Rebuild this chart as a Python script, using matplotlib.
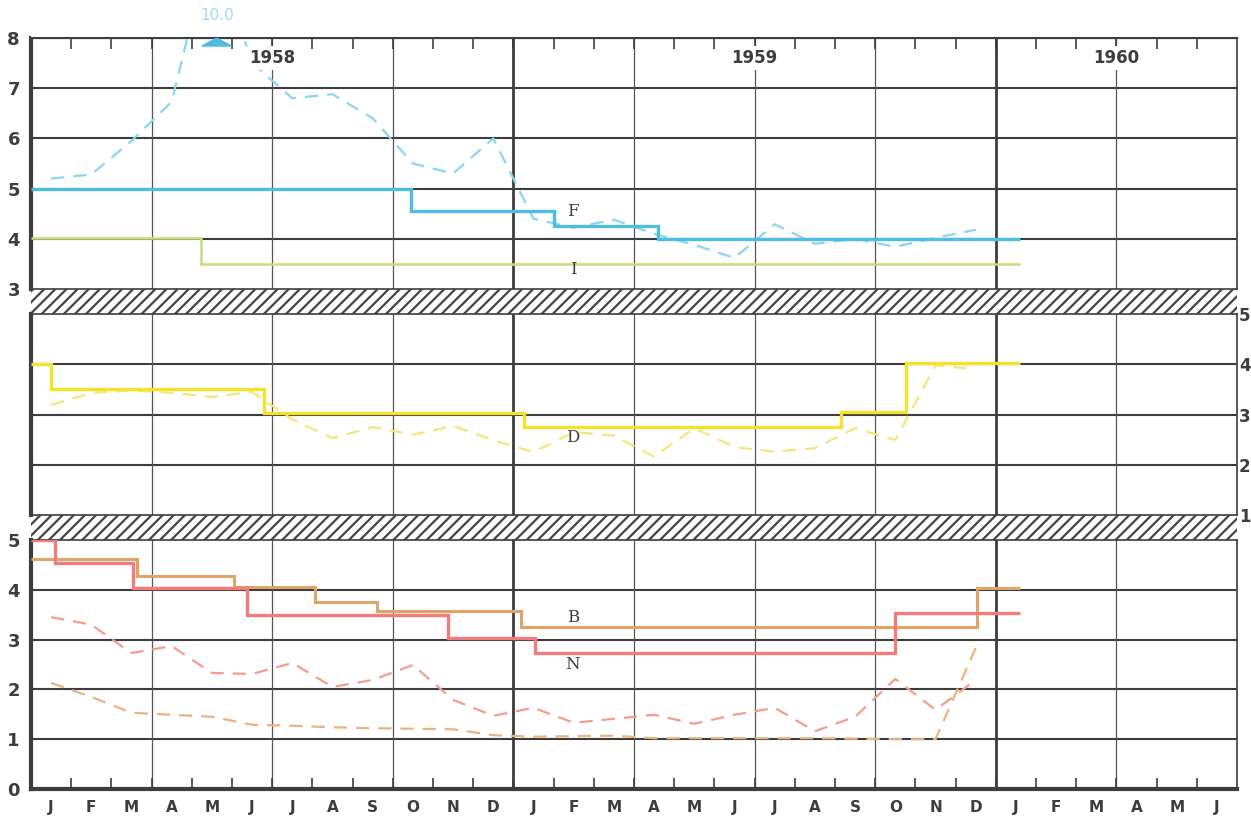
import numpy as np
import matplotlib.pyplot as plt
from matplotlib.patches import Rectangle

plt.rcParams['hatch.linewidth'] = 1.6

'''Data read off the chart'''
months = ['J', 'F', 'M', 'A', 'M', 'J', 'J', 'A', 'S', 'O', 'N', 'D'] * 2 + ['J', 'F', 'M', 'A', 'M', 'J']
years = ['1958', '1959', '1960']
year_pos = [6, 18, 27]  # month index where the year label sits
mid = np.arange(24) + 0.5  # month centres Jan 1958 .. Dec 1959

# top panel (F and I)
f_dash = [5.2, 5.28, 5.95, 6.73, 10.0, 7.5, 6.8, 6.88, 6.4, 5.5, 5.3, 6.0,
          4.4, 4.22, 4.38, 4.1, 3.88, 3.62, 4.29, 3.9, 4.0, 3.84, 4.02, 4.18]
f_edges = [0, 9.45, 13.0, 15.6, 24.6]
f_levels = [5.0, 4.55, 4.25, 4.0]
i_edges = [0, 4.23, 24.6]
i_levels = [4.02, 3.5]

# middle panel (D)
d_dash = [3.19, 3.43, 3.48, 3.43, 3.35, 3.45, 2.9, 2.53, 2.75, 2.6, 2.77, 2.49,
          2.25, 2.65, 2.58, 2.16, 2.73, 2.35, 2.26, 2.33, 2.73, 2.49, 3.98, 3.9]
d_edges = [0, 0.49, 5.8, 12.26, 20.15, 21.77, 24.6]
d_levels = [4.0, 3.5, 3.02, 2.75, 3.05, 4.02]

# bottom panel (B and N)
n_dash = [3.45, 3.3, 2.73, 2.87, 2.33, 2.31, 2.53, 2.05, 2.19, 2.49, 1.79, 1.47,
          1.63, 1.33, 1.41, 1.49, 1.31, 1.49, 1.63, 1.16, 1.45, 2.21, 1.59, 2.19]
n_edges = [0, 0.6, 2.54, 5.37, 10.37, 12.54, 21.5, 24.6]
n_levels = [5.0, 4.53, 4.03, 3.5, 3.03, 2.73, 3.54]
b_dash = [2.13, 1.85, 1.53, 1.49, 1.45, 1.29, 1.27, 1.24, 1.22, 1.21, 1.2, 1.08,
          1.05, 1.06, 1.07, 1.02, 1.02, 1.02, 1.02, 1.02, 1.01, 1.0, 1.0, 2.83]
b_edges = [0, 2.64, 5.05, 7.06, 8.6, 12.19, 23.53, 24.6]
b_levels = [4.61, 4.28, 4.05, 3.76, 3.57, 3.26, 4.04]

'''Colours'''
c_f, c_f2 = '#4dbde2', '#8ad6ee'
c_i = '#c4df7c'
c_d, c_d2 = '#f4e32a', '#f5e67c'
c_n, c_n2 = '#f27c7c', '#f59c90'
c_b, c_b2 = '#dea468', '#ebb37e'
dark = '#3d3d3d'
tick_font = dict(family='DejaVu Sans', weight='bold', color=dark)

W, H = 1251, 816
fig = plt.figure(figsize=(W / 100, H / 100), dpi=100)

def px_axes(top, bottom, left=31, right=1237):
    return fig.add_axes([left / W, 1 - bottom / H, (right - left) / W, (bottom - top) / H])

def setup(ax, ymin, ymax):
    ax.set_xlim(0, 30)
    ax.set_ylim(ymin, ymax)
    for v in range(ymin + 1, ymax):
        ax.axhline(v, color=dark, lw=1.5, zorder=1)
    for m in range(3, 30, 3):
        if m % 12 == 0:
            ax.axvline(m, color=dark, lw=2.0, zorder=1)
        else:
            ax.axvline(m, color='#555555', lw=0.9, zorder=1)
    for s in ax.spines.values():
        s.set_color(dark)
        s.set_linewidth(1.2)
    ax.spines['left'].set_linewidth(3)
    ax.set_xticks([])
    ax.set_yticks([])

def hatch_band(top, bottom):
    hx = px_axes(top, bottom)
    hx.set_axis_off()
    hx.add_patch(Rectangle((0, 0), 1, 1, transform=hx.transAxes, fill=False,
                           hatch='///', edgecolor='#444444', lw=0))

'''Top panel'''
ax1 = px_axes(38, 289)
setup(ax1, 3, 8)
ax1.set_yticks(range(3, 9))
ax1.tick_params(axis='y', length=0, pad=8, labelsize=13)
for lab in ax1.get_yticklabels():
    lab.set_fontweight('bold'); lab.set_color(dark)
ax1.set_xticks(range(1, 30))
ax1.tick_params(axis='x', top=True, bottom=False, direction='in', length=8,
                width=1.2, color=dark, labeltop=False, labelbottom=False)
ax1.spines['top'].set_linewidth(1.6)
ax1.plot(mid, f_dash, color=c_f2, lw=1.6, dashes=(6, 4), zorder=3)
ax1.stairs(f_levels, f_edges, baseline=None, color=c_f, lw=2.4, zorder=4)
ax1.stairs(i_levels, i_edges, baseline=None, color=c_i, lw=1.8, zorder=4)
peak = int(np.argmax(f_dash))
px_ = mid[peak] + 0.12
ax1.fill([px_ - 0.37, px_ + 0.37, px_], [7.84, 7.84, 8.0], color=c_f, zorder=5)
for yr, xp in zip(years, year_pos):
    ax1.text(xp, 7.6, yr, ha='center', va='center', fontsize=12, zorder=6,
             bbox=dict(facecolor='white', edgecolor='none', pad=2), **tick_font)
ax1.text(13.48, 4.55, 'F', family='DejaVu Serif', fontsize=12, color=dark, ha='center', va='center', zorder=6)
ax1.text(13.48, 3.38, 'I', family='DejaVu Serif', fontsize=12, color=dark, ha='center', va='center', zorder=6)

# blank the strip above the top panel so the off-scale peak stays inside
fig.patches.append(Rectangle((31 / W, 1 - 36.5 / H), 1206 / W, 36.5 / H, transform=fig.transFigure,
                             facecolor='white', edgecolor='none', zorder=2))
fig.text(217 / W, 1 - 23 / H, '%.1f' % f_dash[peak], color='#9fdcef', fontsize=11,
         ha='center', va='bottom', zorder=3)

hatch_band(289, 314)

'''Middle panel'''
ax2 = px_axes(314, 515)
setup(ax2, 1, 5)
ax2.yaxis.set_ticks_position('right')
ax2.set_yticks(range(1, 6))
ax2.tick_params(axis='y', length=0, pad=1.5, labelsize=12)
for lab in ax2.get_yticklabels():
    lab.set_fontweight('bold'); lab.set_color(dark)
ax2.plot(mid, d_dash, color=c_d2, lw=1.6, dashes=(6, 4), zorder=3)
ax2.stairs(d_levels, d_edges, baseline=None, color=c_d, lw=2.4, zorder=4)
ax2.text(13.48, 2.55, 'D', family='DejaVu Serif', fontsize=12, color=dark, ha='center', va='center', zorder=6)

hatch_band(515, 540)

'''Bottom panel'''
ax3 = px_axes(540, 789)
setup(ax3, 0, 5)
ax3.spines['bottom'].set_linewidth(3)
ax3.set_yticks(range(0, 6))
ax3.tick_params(axis='y', length=0, pad=8, labelsize=13)
for lab in ax3.get_yticklabels():
    lab.set_fontweight('bold'); lab.set_color(dark)
ax3.set_xticks(range(1, 30))
ax3.set_xticks(np.arange(30) + 0.5, minor=True)
ax3.set_xticklabels(months, minor=True)
ax3.tick_params(axis='x', which='major', direction='in', length=8, width=1.2,
                color=dark, labelbottom=False)
ax3.tick_params(axis='x', which='minor', length=0, pad=8, labelsize=11)
for lab in ax3.get_xticklabels(minor=True):
    lab.set_fontweight('bold'); lab.set_color(dark)
ax3.plot(mid, n_dash, color=c_n2, lw=1.6, dashes=(6, 4), zorder=3)
ax3.plot(mid, b_dash, color=c_b2, lw=1.6, dashes=(6, 4), zorder=3)
ax3.stairs(b_levels, b_edges, baseline=None, color=c_b, lw=2.2, zorder=4)
ax3.stairs(n_levels, n_edges, baseline=None, color=c_n, lw=2.4, zorder=4)
ax3.text(13.48, 3.45, 'B', family='DejaVu Serif', fontsize=12, color=dark, ha='center', va='center', zorder=6)
ax3.text(13.48, 2.51, 'N', family='DejaVu Serif', fontsize=12, color=dark, ha='center', va='center', zorder=6)

plt.savefig('out.png', dpi=100)
